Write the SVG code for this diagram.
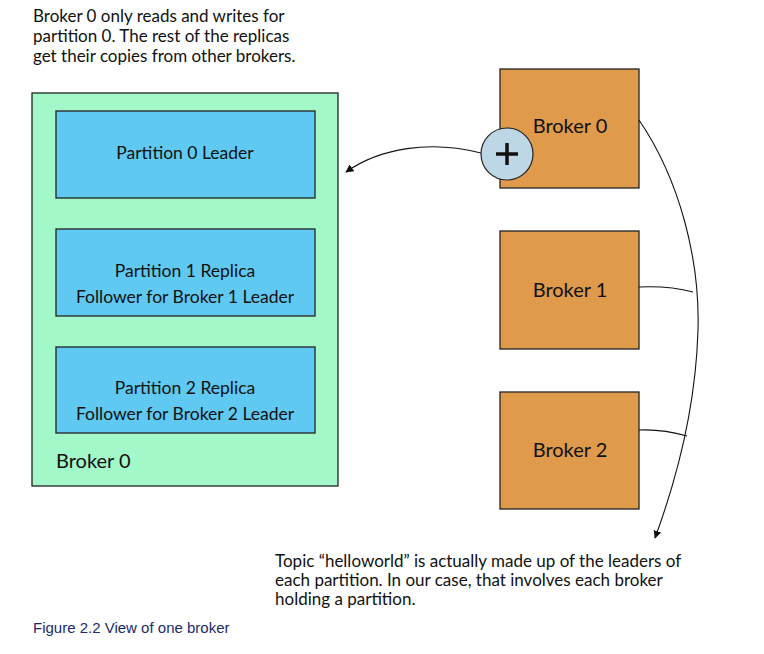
<svg xmlns="http://www.w3.org/2000/svg" width="764" height="654" viewBox="0 0 764 654">
<defs>
<style>
text{font-family:"Lato","Noto Sans",sans-serif;fill:#111;}
.t{font-size:17px;}
.lbl{font-size:17.5px;text-anchor:middle;}
.br{font-size:20px;text-anchor:middle;}
.box{stroke:#222;stroke-width:1.3;}
.green{fill:#a3f8c9;}
.blue{fill:#5fc9f1;}
.orange{fill:#e09a4b;}
.conn{fill:none;stroke:#111;stroke-width:1.1;}
.cap{font-family:"Liberation Sans",sans-serif;font-size:15px;fill:#1b2a6b;}
</style>
<marker id="arr" viewBox="0 0 10 10" refX="9" refY="5" markerWidth="8" markerHeight="8" orient="auto-start-reverse" markerUnits="userSpaceOnUse">
<path d="M0,0 L10,5 L0,10 z" fill="#111"/>
</marker>
</defs>
<rect width="764" height="654" fill="#fff"/>
<text class="t" x="33" y="22">Broker 0 only reads and writes for</text>
<text class="t" x="33" y="42">partition 0. The rest of the replicas</text>
<text class="t" x="33" y="62">get their copies from other brokers.</text>

<g id="broker0-view">
<rect class="box green" x="32" y="93" width="306" height="393"/>
<text x="56" y="468" style="font-size:20px">Broker 0</text>
</g>
<g id="p0">
<rect class="box blue" x="56" y="111" width="259" height="87"/>
<text class="lbl" x="185" y="159">Partition 0 Leader</text>
</g>
<g id="p1">
<rect class="box blue" x="56" y="229" width="259" height="87"/>
<text class="lbl" x="185" y="277">Partition 1 Replica</text>
<text class="lbl" x="185" y="303">Follower for Broker 1 Leader</text>
</g>
<g id="p2">
<rect class="box blue" x="56" y="347" width="259" height="86"/>
<text class="lbl" x="185" y="394">Partition 2 Replica</text>
<text class="lbl" x="185" y="420">Follower for Broker 2 Leader</text>
</g>

<g id="b0">
<rect class="box orange" x="500" y="69" width="139" height="119"/>
<text class="br" x="570" y="133">Broker 0</text>
</g>
<g id="b1">
<rect class="box orange" x="500" y="231" width="139" height="118"/>
<text class="br" x="570" y="297">Broker 1</text>
</g>
<g id="b2">
<rect class="box orange" x="500" y="392" width="139" height="117"/>
<text class="br" x="570" y="457">Broker 2</text>
</g>

<g id="connectors">
<path class="conn" d="M481,153 C430,140 380,148 346,172" marker-end="url(#arr)"/>
<path class="conn" d="M639,120 C680,180 700,260 698,330 C696,400 680,470 655,538" marker-end="url(#arr)"/>
<path class="conn" d="M639,287 C660,286 678,288 693,292"/>
<path class="conn" d="M639,430 C658,429 673,432 687,436"/>
</g>

<g id="plus">
<circle cx="507" cy="154" r="26" fill="#bdd7e6" stroke="#222" stroke-width="1.2"/>
<path d="M496,154 H518 M507,143 V165" stroke="#111" stroke-width="3.5" fill="none"/>
</g>

<text class="t" x="275" y="567">Topic “helloworld” is actually made up of the leaders of</text>
<text class="t" x="275" y="586">each partition. In our case, that involves each broker</text>
<text class="t" x="275" y="605">holding a partition.</text>

<text class="cap" x="33" y="633">Figure 2.2 View of one broker</text>
</svg>
